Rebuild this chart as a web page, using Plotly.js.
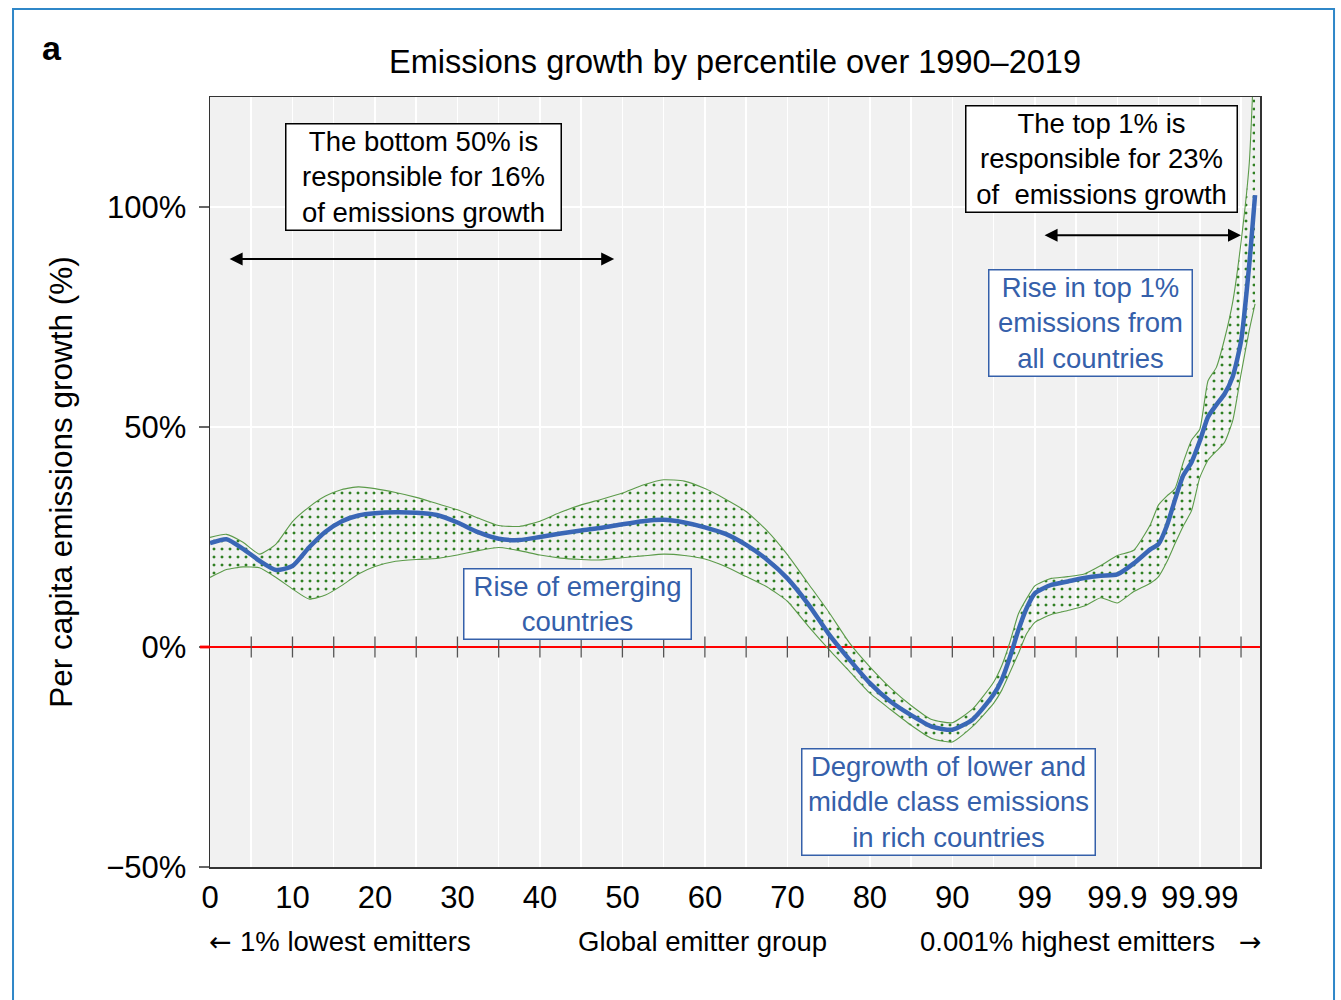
<!DOCTYPE html>
<html>
<head>
<meta charset="utf-8">
<script src="https://cdn.plot.ly/plotly-3.0.1.min.js"></script>
<style>
  html, body { margin: 0; padding: 0; background: #ffffff; }
  #chart { width: 1341px; height: 1000px; }
</style>
</head>
<body>
<div id="chart"></div>
<script>
// ---- Data ----
// Position of each emitter group on the x axis (0 = lowest, 127 = top 0.001%)
const groupIndex = [0,2,4,6,8,10,12,14,16,18,20,22.5,25,27.5,30,32.5,35,37.5,40,42.5,45,47.5,50,52.5,55,57.5,60,62.5,65,67.5,70,72.5,75,77.5,80,82.5,85,87.5,90,92.5,95,96,97,98,99,100,101,102,104,106,108,110,112,114,115,116,117,118,119,120,121,122,123,124,125,126,126.7];

// Per capita emissions growth 1990-2019 (%), central estimate
const growthMedian = [23.6,24.5,22.3,19.6,17.5,18.4,22.6,26.2,28.6,29.9,30.4,30.6,30.5,30.0,28.3,26.1,24.6,24.3,25.0,25.8,26.5,27.1,27.9,28.6,28.9,28.3,27.2,25.7,23.2,19.9,15.6,9.8,3.0,-2.8,-8.2,-12.4,-15.5,-18.1,-18.8,-16.4,-10.8,-7.4,-2.2,3.8,8.8,12.2,13.3,14.1,14.9,15.7,16.2,16.5,19.0,22.2,23.4,27.5,33.5,39.0,42.0,46.8,52.3,55.0,57.5,61.5,69.5,87.0,102.7];

// Upper and lower bounds of the uncertainty band (%)
const growthUpper = [24.9,25.6,23.8,21.1,23.4,28.5,31.8,34.3,35.8,36.4,36.0,35.1,34.0,32.6,31.2,29.3,27.6,27.4,28.6,30.6,32.3,33.6,35.0,36.8,38.0,37.7,36.0,33.6,30.8,26.5,21.0,14.5,8.0,1.0,-4.5,-9.3,-13.3,-16.5,-17.2,-14.0,-8.0,-4.2,1.2,7.5,11.0,13.9,14.9,15.6,16.0,16.6,18.5,20.8,22.0,27.8,32.3,34.3,36.0,42.0,47.0,49.5,60.5,63.5,70.0,78.5,92.0,110.0,140.0];

const growthLower = [15.8,17.6,18.2,18.0,15.8,13.2,10.9,11.8,14.0,16.6,18.3,19.5,19.9,20.1,20.9,21.9,22.6,21.9,20.9,20.2,19.9,19.8,20.3,20.7,21.1,20.8,20.0,18.3,16.0,13.7,10.4,4.8,-0.5,-5.5,-10.5,-14.2,-17.8,-20.8,-21.6,-18.0,-12.8,-9.8,-5.7,-1.5,3.0,5.6,6.6,7.4,8.3,9.3,11.2,10.0,12.6,14.5,16.0,19.3,23.5,27.5,31.0,38.5,42.5,44.5,46.5,51.5,62.0,72.0,78.0];

// Axis tick labels
const xTickPositions = [0,10,20,30,40,50,60,70,80,90,100,110,120];
const xTickLabels = ['0','10','20','30','40','50','60','70','80','90','99','99.9','99.99'];
const yTickValues = [-50,0,50,100];
const yTickLabels = ['\u221250%','0%','50%','100%'];

// ---- Styling ----
const FONT = 'Liberation Sans, Arial, Helvetica, sans-serif';
const ARROWFONT = 'DejaVu Sans, Liberation Sans, sans-serif';
const BLUE_TEXT = '#3560aa';
const GREEN = '#5c9b4a';

// grid every 5 units, labels every 10 (plus special top-percentile labels)
const gridVals = [];
const gridText = [];
for (let v = 0; v <= 125; v += 5) {
  gridVals.push(v);
  const k = xTickPositions.indexOf(v);
  gridText.push(k >= 0 ? xTickLabels[k] : '');
}
const zeroTicks = gridVals.filter(v => v > 0);

const traces = [
  {
    x: groupIndex, y: growthLower, type: 'scatter', mode: 'lines',
    line: {color: GREEN, width: 1.1, shape: 'spline', smoothing: 0.5},
    hoverinfo: 'skip', showlegend: false
  },
  {
    x: groupIndex, y: growthUpper, type: 'scatter', mode: 'lines',
    line: {color: GREEN, width: 1.1, shape: 'spline', smoothing: 0.5},
    fill: 'tonexty', fillcolor: 'rgba(0,0,0,0)',
    fillpattern: {shape: '.', fgcolor: '#2f7f22', bgcolor: 'rgba(0,0,0,0)', size: 8, solidity: 0.11},
    hoverinfo: 'skip', showlegend: false
  },
  {
    x: zeroTicks, y: zeroTicks.map(() => 0), type: 'scatter', mode: 'markers',
    marker: {symbol: 'line-ns-open', size: 15, color: '#555555', line: {color: '#555555', width: 1.3}},
    cliponaxis: false, hoverinfo: 'skip', showlegend: false
  },
  {
    x: groupIndex, y: growthMedian, type: 'scatter', mode: 'lines',
    line: {color: '#3a67b6', width: 4.5, shape: 'spline', smoothing: 0.6},
    showlegend: false
  }
];

function box(text, x, y, color, w) {
  return {
    x: x, y: y, xref: 'x', yref: 'y', text: text, showarrow: false,
    xanchor: 'center', yanchor: 'middle', align: 'center',
    font: {family: FONT, size: 27.5, color: color},
    bgcolor: '#ffffff', bordercolor: color, borderwidth: 1.5, borderpad: 1,
    width: w
  };
}
function dblArrow(x0, x1, y) {
  return {
    x: x1, y: y, ax: x0, ay: y, xref: 'x', yref: 'y', axref: 'x', ayref: 'y',
    text: '', showarrow: true, arrowhead: 2, startarrowhead: 2,
    arrowside: 'end+start', arrowsize: 1.3, startarrowsize: 1.3,
    arrowwidth: 2, arrowcolor: '#000000', standoff: 0, startstandoff: 0
  };
}
function note(text, x, anchor, family, size) {
  return {x: x, y: -0.097, xref: 'paper', yref: 'paper', xanchor: anchor, yanchor: 'middle',
          text: text, showarrow: false, font: {family: family, size: size, color: '#000000'}};
}

const annotations = [
  box('The bottom 50% is<br>responsible for 16%<br>of emissions growth', 25.9, 106.9, '#000000', 272),
  box('The top 1% is<br>responsible for 23%<br>of  emissions growth', 108.1, 110.9, '#000000', 268),
  box('Rise in top 1%<br>emissions from<br>all countries', 106.8, 73.6, BLUE_TEXT, 200),
  box('Rise of emerging<br>countries', 44.6, 9.7, BLUE_TEXT, 224),
  box('Degrowth of lower and<br>middle class emissions<br>in rich countries', 89.5, -35.3, BLUE_TEXT, 290),
  dblArrow(2.2, 49.0, 88.2),
  dblArrow(101.0, 125.0, 93.6),
  note('\u2190', -0.003, 'left', ARROWFONT, 27),
  note('1% lowest emitters', 0.0265, 'left', FONT, 27.5),
  note('Global emitter group', 0.4695, 'center', FONT, 27.5),
  note('0.001% highest emitters', 0.6743, 'left', FONT, 27.5),
  note('\u2192', 1.004, 'right', ARROWFONT, 27),
  {x: -0.1505, y: 1.0636, xref: 'paper', yref: 'paper', xanchor: 'center', yanchor: 'middle',
   text: '<b>a</b>', showarrow: false,
   font: {family: FONT, size: 34, color: '#000000'}}
];

const layout = {
  width: 1341, height: 1000,
  margin: {l: 210, r: 81, t: 97, b: 133, pad: 0},
  paper_bgcolor: '#ffffff',
  plot_bgcolor: '#f1f1f1',
  font: {family: FONT, color: '#000000'},
  title: {
    text: 'Emissions growth by percentile over 1990\u20132019',
    font: {family: FONT, size: 32.5, color: '#000000'},
    xref: 'paper', x: 0.5, xanchor: 'center',
    yref: 'container', y: 0.938, yanchor: 'middle'
  },
  xaxis: {
    range: [0, 127.3], tickmode: 'array', tickvals: gridVals, ticktext: gridText,
    showgrid: true, gridcolor: '#ffffff', gridwidth: 1.5, zeroline: false,
    ticks: '', ticklabelstandoff: 2,
    tickfont: {family: FONT, size: 31, color: '#000000'},
    showline: true, linecolor: '#333333', linewidth: 1.5, mirror: true
  },
  yaxis: {
    range: [-50, 125], tickmode: 'array', tickvals: yTickValues, ticktext: yTickLabels,
    showgrid: true, gridcolor: '#ffffff', gridwidth: 1.5,
    zeroline: true, zerolinecolor: '#ff0000', zerolinewidth: 2.8,
    ticks: 'outside', ticklen: 10, tickcolor: '#666666', tickwidth: 1.3,
    ticklabelstandoff: 6,
    tickfont: {family: FONT, size: 31, color: '#000000'},
    showline: true, linecolor: '#333333', linewidth: 1.5, mirror: true,
    title: {text: 'Per capita emissions growth (%)', font: {family: FONT, size: 31.5, color: '#000000'}, standoff: 24}
  },
  shapes: [
    {type: 'line', xref: 'paper', yref: 'y', x0: -0.0095, x1: 0, y0: 0, y1: 0,
     line: {color: '#ff0000', width: 2.8}, layer: 'above'},
    {type: 'rect', xref: 'paper', yref: 'paper', x0: -0.1876, x1: 1.0705, y0: -0.19, y1: 1.1143,
     line: {color: '#2f87c8', width: 2}, fillcolor: 'rgba(0,0,0,0)', layer: 'above'}
  ],
  annotations: annotations,
  showlegend: false
};

Plotly.newPlot('chart', traces, layout, {displayModeBar: false, staticPlot: true});
</script>
</body>
</html>
